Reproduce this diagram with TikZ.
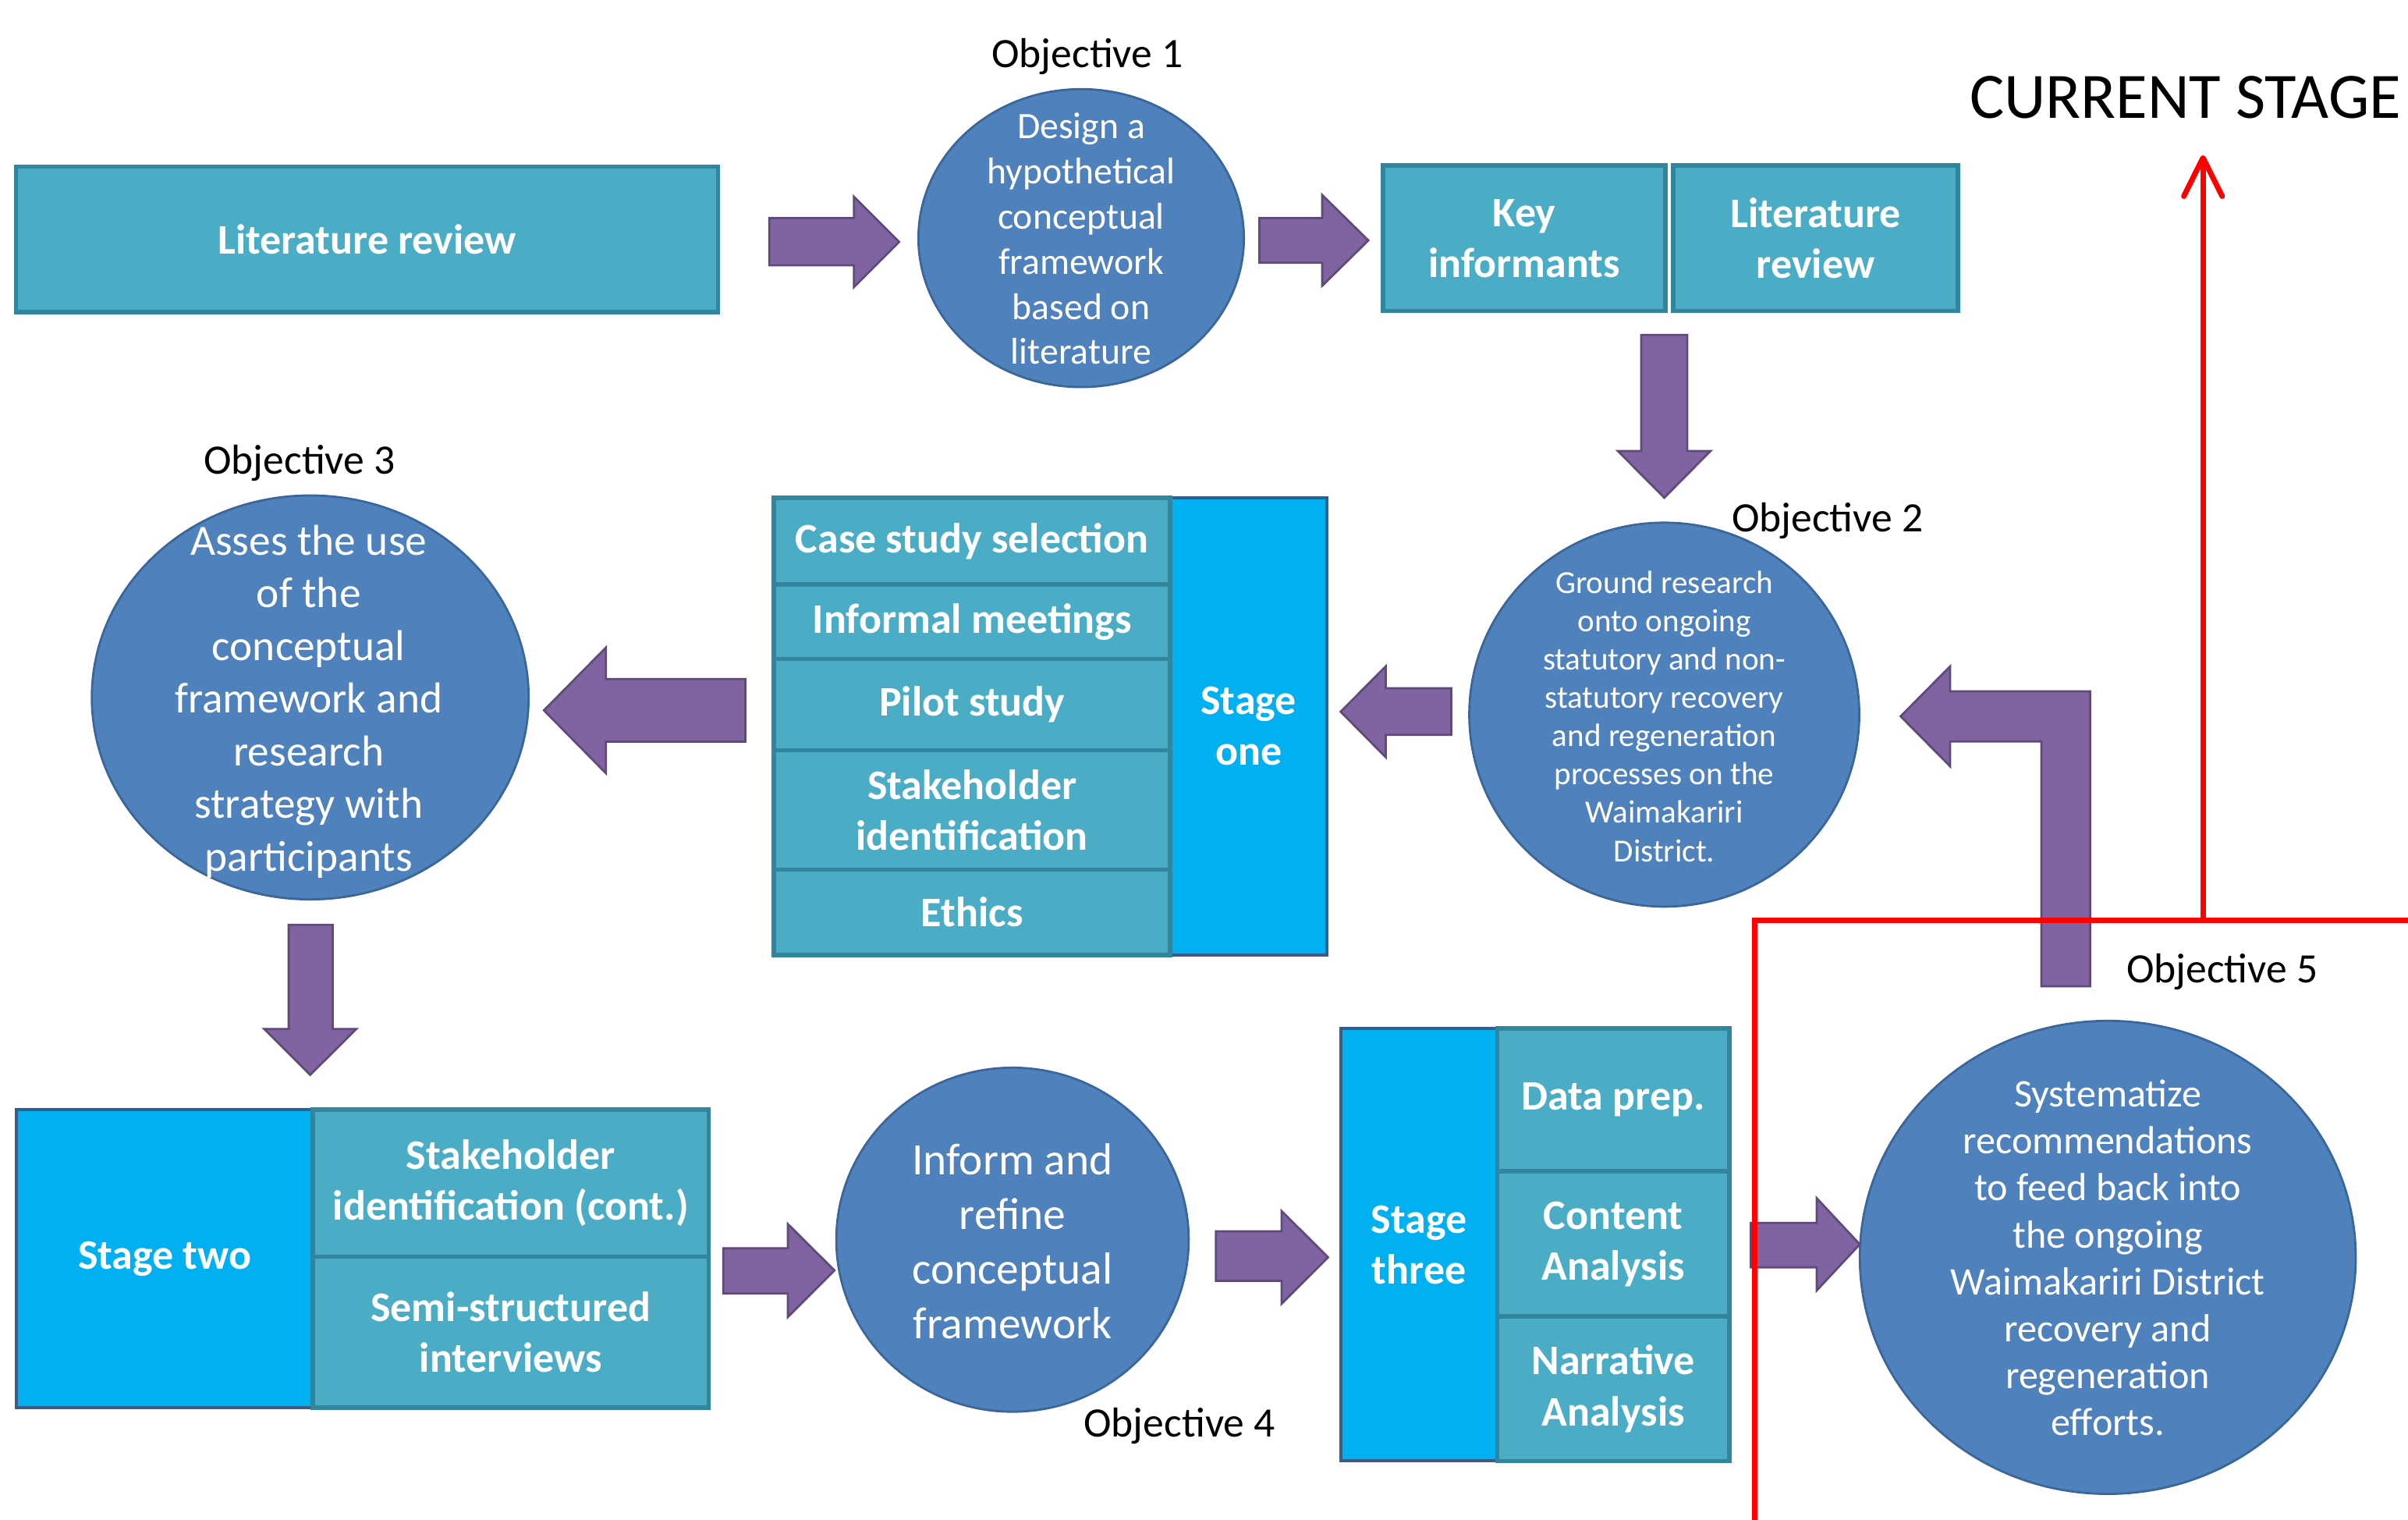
\documentclass[tikz,border=0pt]{standalone}
\usepackage{fontspec}
\setmainfont{Carlito}
\usetikzlibrary{shapes.geometric,arrows.meta}
\definecolor{tealfill}{HTML}{4BACC6}
\definecolor{tealline}{HTML}{31859C}
\definecolor{stagefill}{HTML}{00B0F0}
\definecolor{stageline}{HTML}{385D8A}
\definecolor{circfill}{HTML}{4F81BD}
\definecolor{circline}{HTML}{3B6699}
\definecolor{arrowfill}{HTML}{8064A2}
\definecolor{arrowline}{HTML}{604A7B}
\definecolor{redstage}{HTML}{FF0000}
\newcommand\cellnode[7]{%
  \draw[#6] (#2,#3) rectangle (#4,#5);
  \node[celltext] (#1) at ({(#2+#4)/2},{(#3+#5)/2}) {#7};}
\begin{document}
\begin{tikzpicture}[x=0.02cm,y=-0.02cm,
  cellbox/.style={fill=tealfill, draw=tealline, line width=1.6pt},
  stagebox/.style={fill=stagefill, draw=stageline, line width=1.2pt},
  celltext/.style={text=white, font=\bfseries\fontsize{15.6}{18.8}\selectfont, align=center, inner sep=0pt},
  objcirc/.style={ellipse, fill=circfill, draw=circline, line width=0.8pt, inner sep=0pt},
  circtext/.style={text=white, align=center, inner sep=0pt},
  objlabel/.style={font=\fontsize{15.5}{18}\selectfont, inner sep=0pt},
  blockarrow/.style={fill=arrowfill, draw=arrowline, line width=0.8pt, line join=miter},
  redline/.style={draw=redstage, line width=2pt, line join=miter}]
\useasboundingbox (0,0) rectangle (1568,989);

% ---------- top row ----------
\cellnode{litrev}{10.5}{108.4}{467.5}{203.3}{cellbox}{Literature review}
\cellnode{keyinf}{900.5}{107.7}{1084.5}{202.5}{cellbox}{Key\\informants}
\cellnode{litrevb}{1089.5}{107.7}{1275}{202.5}{cellbox}{Literature\\review}

% ---------- stage one ----------
\cellnode{stone}{762}{324}{864}{621.7}{stagebox}{Stage\\one}
\cellnode{css}{504}{324}{762}{380.5}{cellbox}{Case study selection}
\cellnode{infm}{504}{380.5}{762}{429}{cellbox}{Informal meetings}
\cellnode{pilot}{504}{429}{762}{488.3}{cellbox}{Pilot study}
\cellnode{stakeid}{504}{488.3}{762}{566}{cellbox}{Stakeholder\\identification}
\cellnode{ethics}{504}{566}{762}{621.7}{cellbox}{Ethics}

% ---------- stage two ----------
\cellnode{sttwo}{10.7}{722.3}{203.8}{916.3}{stagebox}{Stage two}
\cellnode{stakecont}{203.8}{722.3}{461.4}{818}{cellbox}{Stakeholder\\identification (cont.)}
\cellnode{semi}{203.8}{818}{461.4}{916.3}{cellbox}{Semi-structured\\interviews}

% ---------- stage three ----------
\cellnode{stthree}{873}{669.5}{975}{951}{stagebox}{Stage\\three}
\cellnode{dataprep}{975}{669.5}{1126}{762.5}{cellbox}{Data prep.}
\cellnode{content}{975}{762.5}{1126}{857}{cellbox}{Content\\Analysis}
\cellnode{narr}{975}{857}{1126}{951}{cellbox}{Narrative\\Analysis}

% ---------- objectives (circles) ----------
\node[objcirc, minimum width=4.24cm, minimum height=3.88cm] (o1) at (704,155) {};
\node[circtext, font=\fontsize{13.8}{16.7}\selectfont] (o1t) at (704,155.5)
  {Design a\\hypothetical\\conceptual\\framework\\based on\\literature};

\node[objcirc, minimum width=5.08cm, minimum height=5cm] (o2) at (1083.7,465.2) {};
\node[circtext, font=\fontsize{11.9}{14.2}\selectfont] (o2t) at (1083.7,466.3)
  {Ground research\\onto ongoing\\statutory and non-\\statutory recovery\\and regeneration\\processes on the\\Waimakariri\\District.};

\node[objcirc, minimum width=5.69cm, minimum height=5.26cm] (o3) at (202,454) {};
\node[circtext, font=\fontsize{16}{19.5}\selectfont] (o3t) at (201,456.6)
  {Asses the use\\of the\\conceptual\\framework and\\research\\strategy with\\participants};

\node[objcirc, minimum width=4.59cm, minimum height=4.48cm] (o4) at (659.3,807) {};
\node[circtext, font=\fontsize{16.6}{20.2}\selectfont] (o4t) at (659.3,808)
  {Inform and\\refine\\conceptual\\framework};

\node[objcirc, minimum width=6.46cm, minimum height=6.16cm] (o5) at (1372.5,818.5) {};
\node[circtext, font=\fontsize{14.5}{17.4}\selectfont] (o5t) at (1372.5,818.8)
  {Systematize\\recommendations\\to feed back into\\the ongoing\\Waimakariri District\\recovery and\\regeneration\\efforts.};

% ---------- labels ----------
\node[objlabel] (l1) at (708,37) {Objective 1};
\node[objlabel] (l2) at (1190,339) {Objective 2};
\node[objlabel] (l3) at (195,301.5) {Objective 3};
\node[objlabel] (l4) at (768,928) {Objective 4};
\node[objlabel] (l5) at (1447,632.5) {Objective 5};
\node[font=\fontsize{24}{28}\selectfont, inner sep=0pt] (cs) at (1423,63.3) {CURRENT STAGE};

% ---------- block arrows ----------
\draw[blockarrow] (501,142)--(556,142)--(556,128)--(585.5,157.5)--(556,187)--(556,172.7)--(501,172.7)--cycle;
\draw[blockarrow] (820,142)--(861,142)--(861,127)--(891,156.5)--(861,186)--(861,171)--(820,171)--cycle;
\draw[blockarrow] (1068.7,218)--(1098.6,218)--(1098.6,293.6)--(1113.8,293.6)--(1083.7,324)--(1053.5,293.6)--(1068.7,293.6)--cycle;
\draw[blockarrow] (945,448)--(902.3,448)--(902.3,433.8)--(873,463.3)--(902.3,492.9)--(902.3,478.3)--(945,478.3)--cycle;
\draw[blockarrow] (485.3,442)--(394.5,442)--(394.5,421.6)--(354.2,462.4)--(394.5,503.3)--(394.5,482.8)--(485.3,482.8)--cycle;
\draw[blockarrow] (188,602)--(216.6,602)--(216.6,669.8)--(232,669.8)--(202,699.7)--(172,669.8)--(188,669.8)--cycle;
\draw[blockarrow] (471,812.6)--(513,812.6)--(513,796.8)--(543.4,827)--(513,857.3)--(513,842)--(471,842)--cycle;
\draw[blockarrow] (791.8,801.5)--(834.5,801.5)--(834.5,788.3)--(864.8,818.5)--(834.5,848.7)--(834.5,833.8)--(791.8,833.8)--cycle;
\draw[blockarrow] (1140,796)--(1183,796)--(1183,780)--(1211,810)--(1183,840)--(1183,825)--(1140,825)--cycle;
\draw[blockarrow] (1329.3,642)--(1361,642)--(1361,450)--(1269.8,450)--(1269.8,433.8)--(1237.6,466.3)--(1269.8,498.8)--(1269.8,482.7)--(1329.3,482.7)--cycle;

% ---------- current stage marker ----------
\coordinate (rA) at (1142.8,995);
\coordinate (rB) at (1142.8,599.3);
\coordinate (rC) at (1575,599.3);
\coordinate (rD) at (1434.5,599.3);
\coordinate (rE) at (1434.5,101);
\draw[redline] (rA) -- (rB) -- (rC);
\draw[redline, -{Straight Barb[length=0.5cm,width=0.5cm,round]}] (rD) -- (rE);
\end{tikzpicture}
\end{document}
